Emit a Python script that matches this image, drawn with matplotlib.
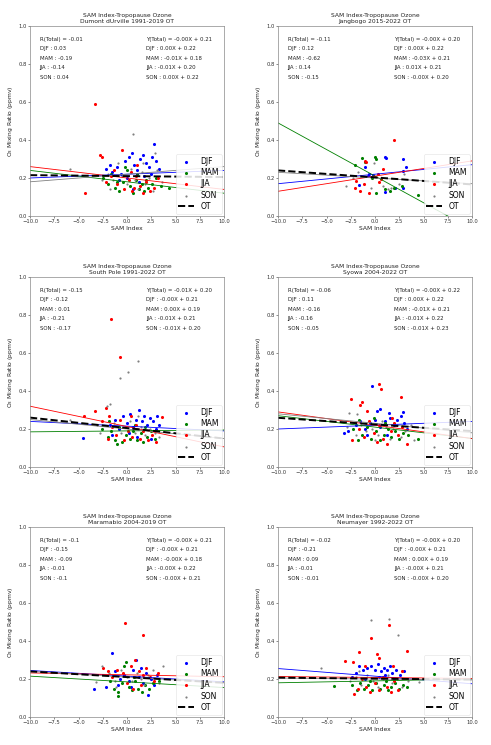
import numpy as np
import matplotlib
matplotlib.use("Agg")
import matplotlib.pyplot as plt

# station titles
titles = ["Dumont dUrville 1991-2019 OT", "Jangbogo 2015-2022 OT",
          "South Pole 1991-2022 OT", "Syowa 2004-2022 OT",
          "Maramabio 2004-2019 OT", "Neumayer 1992-2022 OT"]

seasons = ["DJF", "MAM", "JJA", "SON"]

# correlation text (total, DJF, MAM, JJA, SON)
corr_vals = [["-0.01", "0.03", "-0.19", "-0.14", "0.04"],
             ["-0.11", "0.12", "-0.62", "0.14", "-0.15"],
             ["-0.15", "-0.12", "0.01", "-0.21", "-0.17"],
             ["-0.06", "0.11", "-0.16", "-0.16", "-0.05"],
             ["-0.1", "-0.15", "-0.09", "-0.01", "-0.1"],
             ["-0.02", "-0.21", "0.09", "-0.01", "-0.01"]]

# regression text (total, DJF, MAM, JJA, SON)
eq_vals = [["-0.00X + 0.21", "0.00X + 0.22", "-0.01X + 0.18", "-0.01X + 0.20", "0.00X + 0.22"],
           ["-0.00X + 0.20", "0.00X + 0.22", "-0.03X + 0.21", "0.01X + 0.21", "-0.00X + 0.20"],
           ["-0.01X + 0.20", "-0.00X + 0.21", "0.00X + 0.19", "-0.01X + 0.21", "-0.01X + 0.20"],
           ["-0.00X + 0.22", "0.00X + 0.22", "-0.01X + 0.21", "-0.01X + 0.22", "-0.01X + 0.23"],
           ["-0.00X + 0.21", "-0.00X + 0.21", "-0.00X + 0.18", "-0.00X + 0.22", "-0.00X + 0.21"],
           ["-0.00X + 0.20", "-0.00X + 0.21", "0.00X + 0.19", "-0.00X + 0.21", "-0.00X + 0.20"]]

# fitted line slopes / intercepts (DJF, MAM, JJA, SON, OT)
slopes = [[0.002, -0.006, -0.006, 0.004, -0.0005],
          [0.005, -0.028, 0.008, -0.003, -0.0037],
          [-0.0025, 0.0005, -0.0107, -0.005, -0.0055],
          [0.002, -0.006, -0.007, -0.005, -0.0035],
          [-0.003, -0.003, -0.001, -0.003, -0.003],
          [-0.004, 0.001, -0.0005, -0.0005, -0.0005]]
intercepts = [[0.22, 0.18, 0.20, 0.22, 0.21],
              [0.22, 0.21, 0.21, 0.20, 0.203],
              [0.215, 0.19, 0.213, 0.20, 0.205],
              [0.22, 0.21, 0.22, 0.23, 0.224],
              [0.215, 0.185, 0.222, 0.21, 0.21],
              [0.215, 0.19, 0.208, 0.20, 0.202]]

# scatter points (SAM index, O3 ppmv)
dumont_djf = [(-2.2,0.25),(-1.8,0.27),(-1.5,0.23),(-1.0,0.26),(-0.6,0.22),(-0.2,0.29),(0.2,0.31),(0.5,0.33),
              (0.7,0.27),(1.0,0.24),(1.3,0.30),(1.6,0.32),(2.0,0.28),(2.3,0.26),(2.6,0.31),(2.8,0.38),(3.0,0.29),
              (3.3,0.25),(0.0,0.20),(0.6,0.14),(1.8,0.21),(-0.8,0.19),(2.5,0.22),(1.2,0.18)]
dumont_mam = [(-2.5,0.20),(-2.0,0.17),(-1.6,0.22),(-1.2,0.15),(-0.8,0.13),(-0.4,0.18),(0.0,0.24),(0.3,0.16),
              (0.6,0.12),(0.9,0.19),(1.2,0.14),(1.5,0.17),(1.8,0.13),(2.2,0.15),(2.6,0.17),(3.0,0.20),(3.5,0.16),
              (-0.2,0.26),(1.0,0.22),(2.0,0.19),(4.3,0.15),(-1.0,0.18)]
dumont_jja = [(-3.3,0.59),(-4.3,0.12),(-2.8,0.32),(-2.6,0.31),(-2.2,0.18),(-1.6,0.21),(-1.0,0.17),(-0.5,0.35),
              (-0.3,0.14),(0.2,0.19),(0.5,0.13),(0.7,0.15),(0.9,0.21),(1.3,0.16),(1.7,0.12),(2.0,0.18),(2.4,0.13),
              (2.8,0.15),(3.2,0.20),(1.0,0.27),(-1.3,0.24),(0.4,0.23)]
dumont_son = [(-5.9,0.245),(0.67,0.43),(-2.6,0.19),(-2.0,0.22),(-1.4,0.19),(-0.9,0.28),(-0.5,0.21),(0.0,0.17),
              (0.4,0.25),(0.8,0.19),(1.1,0.14),(1.5,0.23),(1.9,0.17),(2.3,0.20),(2.7,0.13),(3.1,0.24),(3.6,0.18),
              (-1.8,0.14),(1.6,0.28),(2.9,0.33)]

jang_djf = [(0.98,0.31),(2.86,0.30),(-1.0,0.26),(3.24,0.26),(2.93,0.237),(-1.7,0.163),(-0.74,0.21),(-0.63,0.22),
            (0.98,0.128),(2.07,0.146),(2.86,0.146),(-0.22,0.216),(1.1,0.305)]
jang_mam = [(-1.36,0.305),(-0.05,0.31),(0.12,0.30),(-1.08,0.286),(-2.1,0.27),(0.98,0.14),(2.0,0.15),(2.8,0.16),
            (4.47,0.11),(0.12,0.122),(-0.3,0.20),(1.5,0.13)]
jang_jja = [(2.0,0.40),(-0.91,0.286),(-1.0,0.29),(0.84,0.25),(-2.0,0.186),(-2.1,0.146),(-1.5,0.133),(-1.15,0.168),
            (-0.64,0.12),(0.46,0.18),(0.63,0.193),(0.29,0.22)]
jang_son = [(-0.12,0.28),(-1.77,0.23),(3.0,0.22),(-3.04,0.158),(-0.46,0.15),(1.32,0.14),(1.6,0.146),(2.5,0.17),
            (-2.3,0.20),(0.8,0.16)]

pole_djf = [(-1.8,0.22),(-1.2,0.25),(-0.8,0.20),(-0.4,0.27),(0.0,0.23),(0.3,0.28),(0.6,0.21),(0.9,0.25),(1.2,0.30),
            (1.5,0.24),(1.8,0.27),(2.1,0.22),(2.4,0.26),(2.7,0.24),(3.0,0.20),(3.3,0.22),(-4.5,0.155),(0.2,0.18),
            (1.0,0.16),(2.5,0.15),(-1.5,0.17),(3.1,0.27)]
pole_mam = [(-2.6,0.20),(-2.0,0.16),(-1.6,0.19),(-1.2,0.14),(-0.8,0.21),(-0.5,0.13),(-0.1,0.17),(0.3,0.15),
            (0.6,0.19),(1.0,0.14),(1.4,0.18),(1.7,0.13),(2.1,0.16),(2.5,0.19),(2.9,0.15),(-1.0,0.12),(0.8,0.22),
            (-1.9,0.24),(1.9,0.21)]
pole_jja = [(-1.6,0.78),(-0.7,0.58),(-4.4,0.268),(-3.3,0.296),(-2.6,0.24),(-2.2,0.31),(-1.9,0.27),(-1.5,0.21),
            (-1.1,0.17),(-0.7,0.25),(-0.3,0.14),(0.1,0.19),(0.5,0.16),(0.9,0.22),(1.3,0.15),(1.7,0.19),(2.2,0.14),
            (2.6,0.17),(3.0,0.13),(3.6,0.264),(-2.0,0.15),(0.4,0.27)]
pole_son = [(1.16,0.56),(0.06,0.50),(-0.74,0.47),(-5.9,0.25),(-1.8,0.33),(-2.1,0.32),(-2.8,0.18),(-1.3,0.23),
            (-0.6,0.18),(-0.2,0.21),(0.3,0.24),(0.8,0.18),(1.4,0.21),(1.9,0.17),(2.4,0.20),(2.9,0.18),(3.3,0.16),
            (-3.1,0.22),(1.1,0.27)]

syowa_djf = [(-0.33,0.426),(0.56,0.303),(0.22,0.294),(1.49,0.282),(2.86,0.29),(2.7,0.27),(-3.2,0.18),(-2.8,0.19),
             (-2.0,0.22),(-1.5,0.24),(-1.0,0.20),(-0.5,0.23),(0.0,0.25),(0.5,0.21),(1.0,0.24),(1.5,0.26),(2.0,0.22),
             (2.3,0.25),(3.0,0.23),(3.3,0.20),(1.2,0.17),(-0.8,0.17)]
syowa_mam = [(-2.3,0.20),(-1.8,0.14),(-1.3,0.17),(-0.8,0.21),(-0.4,0.15),(0.1,0.19),(0.5,0.14),(0.9,0.17),
             (1.3,0.20),(1.7,0.16),(2.1,0.19),(2.5,0.15),(2.9,0.18),(3.4,0.17),(4.47,0.15),(-0.1,0.26),(1.0,0.23),
             (-1.6,0.25)]
syowa_jja = [(0.39,0.437),(0.63,0.412),(2.69,0.37),(-2.52,0.356),(-1.36,0.34),(-1.5,0.326),(-0.81,0.296),
             (-2.4,0.14),(-1.7,0.20),(-1.1,0.16),(-0.6,0.24),(-0.1,0.18),(0.4,0.22),(0.8,0.15),(1.2,0.12),(1.6,0.19),
             (2.0,0.23),(2.4,0.17),(2.8,0.21),(3.3,0.12),(1.8,0.26),(0.2,0.13)]
syowa_son = [(-2.63,0.282),(4.0,0.14),(-2.9,0.21),(-2.0,0.17),(-1.4,0.22),(-0.9,0.19),(-0.3,0.20),(0.3,0.17),
             (0.7,0.24),(1.1,0.21),(1.5,0.15),(1.9,0.20),(2.3,0.22),(2.7,0.16),(3.1,0.19),(3.7,0.22),(-1.9,0.28),
             (0.0,0.14)]

mara_djf = [(-3.4,0.149),(-2.2,0.158),(-1.57,0.339),(-1.2,0.24),(-0.7,0.20),(-0.3,0.22),(0.2,0.19),(0.6,0.25),
            (0.9,0.30),(1.2,0.21),(1.6,0.18),(2.0,0.23),(2.2,0.114),(2.5,0.20),(2.8,0.17),(3.1,0.22),(0.4,0.16),
            (1.4,0.26),(-0.9,0.17)]
mara_mam = [(-0.88,0.109),(-1.8,0.19),(-1.3,0.15),(-0.9,0.13),(-0.5,0.18),(-0.1,0.29),(0.2,0.16),(0.5,0.14),
            (0.8,0.19),(1.1,0.15),(1.5,0.13),(1.9,0.17),(2.3,0.15),(2.7,0.18),(-0.3,0.27),(0.7,0.21),(3.3,0.19)]
mara_jja = [(-0.19,0.495),(1.64,0.43),(-2.5,0.26),(-2.0,0.24),(-1.5,0.21),(-1.0,0.25),(-0.4,0.23),(0.0,0.18),
            (0.4,0.27),(0.8,0.30),(1.2,0.24),(1.6,0.22),(2.0,0.26),(2.4,0.21),(2.8,0.19),(3.2,0.23),(0.6,0.15),
            (1.4,0.17)]
mara_son = [(-3.2,0.184),(-2.6,0.27),(-1.9,0.23),(-1.2,0.19),(-0.6,0.25),(0.0,0.21),(0.5,0.19),(1.0,0.23),
            (1.4,0.20),(1.8,0.17),(2.2,0.22),(2.7,0.25),(3.3,0.18),(3.7,0.27),(5.2,0.205),(-1.1,0.16)]

neu_djf = [(-2.0,0.23),(-1.6,0.27),(-1.2,0.25),(-0.8,0.26),(-0.4,0.27),(0.0,0.25),(0.3,0.28),(0.6,0.24),(0.9,0.26),
           (1.2,0.25),(1.5,0.27),(1.8,0.23),(2.2,0.25),(2.6,0.22),(3.0,0.24),(-2.4,0.21),(0.4,0.21),(1.0,0.22),
           (-1.0,0.20),(2.0,0.20)]
neu_mam = [(-4.24,0.165),(-2.4,0.17),(-1.9,0.14),(-1.5,0.18),(-1.1,0.15),(-0.7,0.17),(-0.3,0.14),(0.1,0.18),
           (0.5,0.15),(0.9,0.17),(1.3,0.14),(1.7,0.16),(2.1,0.18),(2.5,0.15),(2.9,0.17),(-0.5,0.19),(1.1,0.19),
           (3.3,0.16)]
neu_jja = [(1.42,0.486),(-0.4,0.418),(3.3,0.348),(-1.7,0.342),(-3.07,0.295),(-2.28,0.29),(0.22,0.33),(0.45,0.31),
           (-2.2,0.12),(-1.8,0.15),(-1.3,0.20),(-0.9,0.16),(-0.5,0.13),(0.0,0.18),(0.4,0.14),(0.8,0.21),(1.2,0.16),
           (1.6,0.13),(2.0,0.19),(2.4,0.14),(2.8,0.24),(-1.0,0.27),(1.9,0.27)]
neu_son = [(-0.46,0.509),(1.49,0.518),(2.35,0.43),(-5.6,0.26),(-2.6,0.19),(-2.0,0.21),(-1.4,0.17),(-0.8,0.22),
           (-0.2,0.19),(0.3,0.16),(0.8,0.20),(1.3,0.22),(1.8,0.18),(2.3,0.20),(2.8,0.16),(3.4,0.19),(4.5,0.185),
           (-1.6,0.24)]

points = [[dumont_djf, dumont_mam, dumont_jja, dumont_son],
          [jang_djf, jang_mam, jang_jja, jang_son],
          [pole_djf, pole_mam, pole_jja, pole_son],
          [syowa_djf, syowa_mam, syowa_jja, syowa_son],
          [mara_djf, mara_mam, mara_jja, mara_son],
          [neu_djf, neu_mam, neu_jja, neu_son]]

colors = ["blue", "green", "red", "gray"]
sizes = [5, 5, 5, 2.5]


def draw_panel(ax, k):
    xx = np.array([-10, 10])
    for i, s in enumerate(seasons):
        pts = np.array(points[k][i])
        ax.scatter(pts[:, 0], pts[:, 1], s=sizes[i], color=colors[i], label=s, lw=0)
    for i in range(4):
        ax.plot(xx, slopes[k][i] * xx + intercepts[k][i], color=colors[i], lw=0.6)
    ax.plot(xx, slopes[k][4] * xx + intercepts[k][4], color="black", ls="--", lw=1.4, label="OT")

    ax.set_xlim(-10, 10)
    ax.set_ylim(0, 1)
    ax.set_xticks(np.arange(-10, 10.1, 2.5))
    ax.set_yticks(np.arange(0, 1.01, 0.2))
    ax.tick_params(labelsize=3.8, length=1.5, width=0.4, pad=1, colors="#333333")
    for sp in ax.spines.values():
        sp.set_linewidth(0.5)
        sp.set_color("#888888")
    ax.set_title("SAM Index-Tropopause Ozone\n" + titles[k], fontsize=4.3, pad=2, color="#222222")
    ax.set_xlabel("SAM Index", fontsize=4.3, labelpad=1, color="#222222")
    ax.set_ylabel("O$_3$ Mixing Ratio (ppmv)", fontsize=4.3, labelpad=2, color="#222222")

    left = ["R(Total) = " + corr_vals[k][0]] + [s + " : " + v for s, v in zip(seasons, corr_vals[k][1:])]
    right = ["Y(Total) = " + eq_vals[k][0]] + [s + " : " + v for s, v in zip(seasons, eq_vals[k][1:])]
    for j in range(5):
        ax.text(-9.0, 0.93 - 0.05 * j, left[j], fontsize=3.9, va="center", color="#222222")
        ax.text(2.0, 0.93 - 0.05 * j, right[j], fontsize=3.9, va="center", color="#222222")

    leg = ax.legend(loc="lower right", fontsize=5.5, markerscale=1.0, handlelength=2.0,
                    handletextpad=0.9, borderpad=0.35, labelspacing=0.3, borderaxespad=0.3,
                    framealpha=0.85, edgecolor="#dddddd")
    leg.get_frame().set_linewidth(0.4)


fig = plt.figure(figsize=(4.91, 7.45), dpi=100)
col_left = [30 / 491, 278 / 491]
row_bottom = [(745 - 216) / 745, (745 - 467) / 745, (745 - 717) / 745]
w = 194 / 491
h = 190 / 745
for k in range(6):
    ax = fig.add_axes([col_left[k % 2], row_bottom[k // 2], w, h])
    draw_panel(ax, k)

fig.savefig("out.png", dpi=100)
